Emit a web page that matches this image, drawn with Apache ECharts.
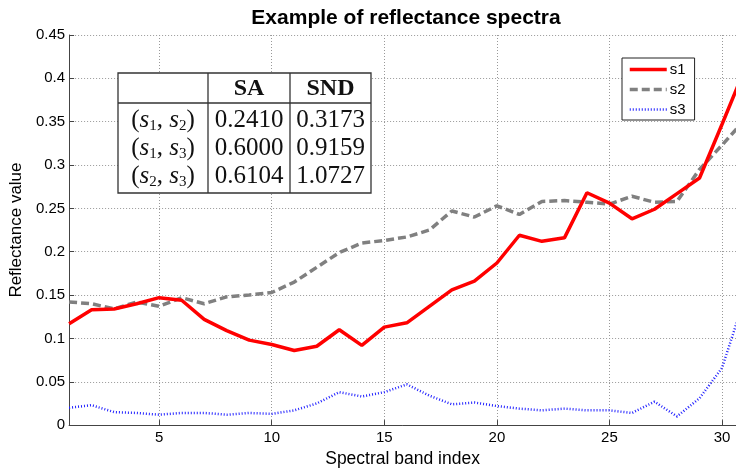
<!DOCTYPE html>
<html>
<head>
<meta charset="utf-8">
<script src="https://cdn.jsdelivr.net/npm/echarts@6/dist/echarts.min.js"></script>
<style>html,body{margin:0;padding:0;background:#fff;}#c{width:736px;height:473px;}</style>
</head>
<body>
<div id="c"></div>
<script>
var bands = [1,2,3,4,5,6,7,8,9,10,11,12,13,14,15,16,17,18,19,20,21,22,23,24,25,26,27,28,29,30,31];
var s1 = [0.117,0.133,0.134,0.140,0.147,0.144,0.122,0.109,0.098,0.093,0.086,0.091,0.110,0.092,0.113,0.118,0.137,0.156,0.166,0.187,0.219,0.212,0.216,0.268,0.256,0.238,0.249,0.267,0.285,0.347,0.410];
var s2 = [0.142,0.140,0.134,0.142,0.137,0.147,0.140,0.148,0.150,0.153,0.165,0.182,0.199,0.210,0.213,0.217,0.225,0.247,0.240,0.253,0.243,0.258,0.259,0.257,0.255,0.264,0.257,0.258,0.295,0.323,0.352];
var s3 = [0.020,0.023,0.015,0.014,0.012,0.014,0.014,0.012,0.014,0.013,0.017,0.025,0.038,0.033,0.038,0.047,0.034,0.024,0.026,0.022,0.019,0.017,0.019,0.017,0.017,0.014,0.027,0.010,0.031,0.066,0.146];
var xTicks = [5,10,15,20,25,30];
var tableHeader = ['', 'SA', 'SND'];
var tablePairs = [['1','2'],['1','3'],['2','3']];
var tableSA = ['0.2410','0.6000','0.6104'];
var tableSND = ['0.3173','0.9159','1.0727'];

function pairs(ys){ return bands.map(function(b,i){ return [b, ys[i]]; }); }

var serif = 'Liberation Serif';
var sans = 'Liberation Sans';

// table layout
var tx0 = 118, tx1 = 208, tx2 = 290, tx3 = 371;
var ty0 = 73, ty1 = 103, ty2 = 193;
var rowY = [120, 148, 176];
var graphics = [];
graphics.push({type:'rect', shape:{x:tx0,y:ty0,width:tx3-tx0,height:ty2-ty0}, style:{fill:'#fff', stroke:'#333', lineWidth:1.3}, z:100});
graphics.push({type:'line', shape:{x1:tx1,y1:ty0,x2:tx1,y2:ty2}, style:{stroke:'#333', lineWidth:1.3}, z:101});
graphics.push({type:'line', shape:{x1:tx2,y1:ty0,x2:tx2,y2:ty2}, style:{stroke:'#333', lineWidth:1.3}, z:101});
graphics.push({type:'line', shape:{x1:tx0,y1:ty1,x2:tx3,y2:ty1}, style:{stroke:'#333', lineWidth:1.3}, z:101});
graphics.push({type:'text', x:(tx1+tx2)/2, y:89, z:102, style:{text:tableHeader[1], font:'bold 24px "'+serif+'"', fill:'#111', align:'center', verticalAlign:'middle'}});
graphics.push({type:'text', x:(tx2+tx3)/2, y:89, z:102, style:{text:tableHeader[2], font:'bold 24px "'+serif+'"', fill:'#111', align:'center', verticalAlign:'middle'}});
tablePairs.forEach(function(p, i){
  graphics.push({type:'text', x:(tx0+tx1)/2, y:rowY[i], z:102, style:{
    text:'{n|(}{i|s}{b|'+p[0]+'}{n|, }{i|s}{b|'+p[1]+'}{n|)}',
    align:'center', verticalAlign:'middle', fill:'#111',
    rich:{
      n:{fontFamily:serif, fontSize:25, lineHeight:28, fill:'#111'},
      i:{fontFamily:serif, fontStyle:'italic', fontSize:25, lineHeight:28, fill:'#111'},
      b:{fontFamily:serif, fontSize:15, lineHeight:28, verticalAlign:'bottom', padding:[6,0,0,0], fill:'#111'}
    }}});
  graphics.push({type:'text', x:(tx1+tx2)/2, y:rowY[i], z:102, style:{text:tableSA[i], font:'25px "'+serif+'"', fill:'#111', align:'center', verticalAlign:'middle'}});
  graphics.push({type:'text', x:(tx2+tx3)/2, y:rowY[i], z:102, style:{text:tableSND[i], font:'25px "'+serif+'"', fill:'#111', align:'center', verticalAlign:'middle'}});
});

var chart = echarts.init(document.getElementById('c'), null, {renderer:'canvas'});
chart.setOption({
  animation:false,
  backgroundColor:'#fff',
  title:{text:'Example of reflectance spectra', left:401, textAlign:'center', top:3,
    textStyle:{fontFamily:sans, fontSize:21, fontWeight:'bold', color:'#000'}},
  grid:{left:64, right:0, top:35, bottom:42, containLabel:false},
  legend:{
    orient:'vertical', left:622, top:58, padding:[4,9,3,6], itemGap:5,
    itemWidth:37, itemHeight:14, borderColor:'#222', borderWidth:1, backgroundColor:'#fff',
    itemStyle:{opacity:0},
    lineStyle:{width:'inherit'},
    textStyle:{fontFamily:sans, fontSize:15, color:'#000', padding:[0,0,0,-2]},
    data:['s1','s2','s3']
  },
  xAxis:{
    type:'value', min:1, max:30.62,
    name:'Spectral band index', nameLocation:'middle', nameGap:24,
    nameTextStyle:{fontFamily:sans, fontSize:17.5, color:'#000'},
    axisLine:{show:true, onZero:false, lineStyle:{color:'#444', width:1}},
    axisTick:{show:true, inside:true, length:5, customValues:xTicks, lineStyle:{color:'#444'}},
    axisLabel:{customValues:xTicks, fontFamily:sans, fontSize:15, color:'#000', margin:5},
    splitLine:{show:true, lineStyle:{color:'#999', type:[1,2], width:1}}
  },
  yAxis:{
    type:'value', min:0, max:0.45, interval:0.05,
    name:'Reflectance value', nameLocation:'middle', nameGap:37,
    nameTextStyle:{fontFamily:sans, fontSize:17, color:'#000'},
    axisLine:{show:true, lineStyle:{color:'#444', width:1}},
    axisTick:{show:true, inside:true, length:5, lineStyle:{color:'#444'}},
    axisLabel:{fontFamily:sans, fontSize:15, color:'#000', margin:4,
      formatter:function(v){ return String(+v.toFixed(2)); }},
    splitLine:{show:true, lineStyle:{color:'#999', type:[1,2], width:1}}
  },
  series:[
    {name:'s1', type:'line', data:pairs(s1), symbol:'none', color:'#ff0000',
      lineStyle:{color:'#ff0000', width:3.5}, z:5},
    {name:'s2', type:'line', data:pairs(s2), symbol:'none', color:'#808080',
      lineStyle:{color:'#808080', width:3.5, type:[8,4]}, z:4},
    {name:'s3', type:'line', data:pairs(s3), symbol:'none', color:'#2020ff',
      lineStyle:{color:'#2020ff', width:2.5, type:[1,2]}, z:3}
  ],
  graphic:graphics
});
</script>
</body>
</html>
